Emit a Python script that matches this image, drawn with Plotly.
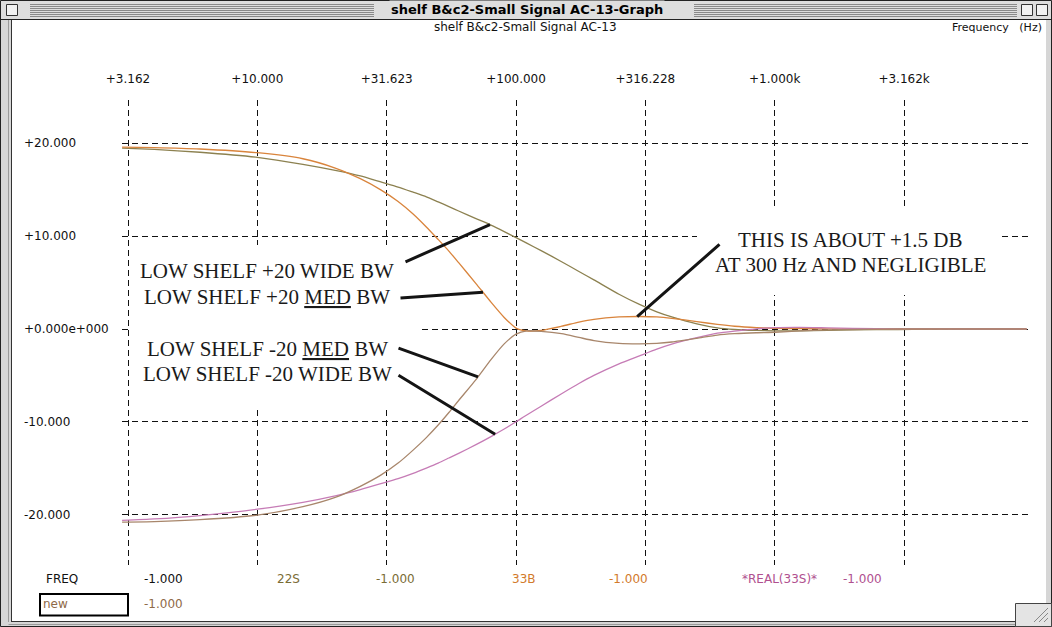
import numpy as np
import plotly.graph_objects as go

# ---------------- data ----------------
freq_hz = [3, 4, 6, 10, 15, 20, 25, 30, 35, 40, 45, 50, 55, 60, 70, 80, 90, 100, 110, 125,
           150, 175, 200, 250, 300, 350, 400, 500, 600, 700, 850, 1000, 1250, 1600, 2000,
           3000, 5000, 9400]

# 22S : low shelf +20 wide BW
shelf_p20_wide = [19.5, 19.35, 19.05, 18.5, 17.75, 17.1, 16.5, 15.85, 15.3, 14.75, 14.25, 13.7,
                  13.2, 12.72, 11.9, 11.2, 10.5, 9.85, 9.25, 8.45, 7.25, 6.2, 5.3, 3.75, 2.65,
                  1.85, 1.3, 0.55, 0.12, -0.05, -0.15, -0.2, -0.2, -0.15, -0.1, -0.05, 0.0, 0.0]
# 33B : low shelf +20 medium BW
shelf_p20_med = [19.6, 19.55, 19.4, 19.0, 18.35, 17.35, 16.2, 15.0, 13.75, 12.4, 11.0, 9.65,
                 8.4, 7.15, 4.9, 2.9, 1.25, 0.1, -0.2, -0.15, 0.3, 0.75, 1.05, 1.3, 1.35, 1.3,
                 1.15, 0.8, 0.5, 0.3, 0.15, 0.08, 0.04, 0.02, 0.0, 0.0, 0.0, 0.0]
# *REAL(33S)* : low shelf -20 wide BW
shelf_m20_wide = [-20.63, -20.47, -20.1, -19.42, -18.68, -17.98, -17.3, -16.67, -16.12, -15.55,
                  -14.98, -14.45, -13.9, -13.4, -12.46, -11.59, -10.78, -10.0, -9.26, -8.32,
                  -6.97, -5.87, -5.0, -3.75, -2.89, -2.17, -1.63, -0.93, -0.45, -0.22, 0.02,
                  0.15, 0.18, 0.12, 0.06, 0.02, 0.0, 0.0]
# new : low shelf -20 medium BW
shelf_m20_med = [-20.8, -20.75, -20.55, -20.05, -19.15, -18.15, -16.95, -15.75, -14.45, -13.05,
                 -11.7, -10.35, -9.0, -7.7, -5.45, -3.3, -1.6, -0.55, -0.2, -0.25, -0.5, -0.9,
                 -1.25, -1.55, -1.6, -1.55, -1.4, -1.0, -0.65, -0.5, -0.4, -0.35, -0.2, -0.1,
                 -0.05, 0.0, 0.0, 0.0]

x_tick_vals = [3.16228, 10, 31.6228, 100, 316.228, 1000, 3162.28]
x_tick_text = ["+3.162", "+10.000", "+31.623", "+100.000", "+316.228", "+1.000k", "+3.162k"]
y_tick_vals = [20, 10, 0, -10, -20]
y_tick_text = ["+20.000", "+10.000", "+0.000e+000", "-10.000", "-20.000"]

series_names = ["22S", "33B", "*REAL(33S)*", "new"]
series_colors = ["#8c8150", "#d9843c", "#c67cb6", "#a8866b"]
label_colors = ["#7a6c35", "#d27a2c", "#b0508f", "#8f6a48"]

# ---------------- geometry ----------------
W, H = 1052, 627
L, R, T, B = 122, 1028, 100, 565
XR = [0.4768, 3.979]
YR = [-25.43, 24.68]


def xp(px):
    return (px - L) / (R - L)


def yp(py):
    return (B - py) / (B - T)


def f_of_px(px):
    return 10 ** (XR[0] + (px - L) / (R - L) * (XR[1] - XR[0]))


def db_of_py(py):
    return YR[1] - (py - T) / (B - T) * (YR[1] - YR[0])


def px_of_f(f):
    return L + (np.log10(f) - XR[0]) / (XR[1] - XR[0]) * (R - L)


def py_of_db(v):
    return T + (YR[1] - v) / (YR[1] - YR[0]) * (B - T)


fig = go.Figure()
all_series = [shelf_p20_wide, shelf_p20_med, shelf_m20_wide, shelf_m20_med]
for name, ys, col in zip(series_names, all_series, series_colors):
    fig.add_trace(go.Scatter(x=freq_hz, y=ys, mode="lines", name=name,
                             line=dict(color=col, width=1.3, shape="spline", smoothing=0.6),
                             hoverinfo="skip"))

shapes = []


def prect(x0, x1, y0, y1, fill, lc=None, lw=0):
    shapes.append(dict(type="rect", xref="paper", yref="paper", x0=xp(x0), x1=xp(x1),
                       y0=yp(y1), y1=yp(y0), fillcolor=fill,
                       line=dict(color=lc or "rgba(0,0,0,0)", width=lw), layer="below"))


def pline(x0, x1, y0, y1, col, w=1):
    shapes.append(dict(type="line", xref="paper", yref="paper", x0=xp(x0), x1=xp(x1),
                       y0=yp(y0), y1=yp(y1), line=dict(color=col, width=w), layer="below"))


# window chrome
prect(12, 1046, 20, 621, "white")
prect(0.5, 1051.5, 0.5, 626.5, "rgba(0,0,0,0)", "#222", 1)
prect(1, 1051, 1, 19, "#dedede")
pline(0, 1052, 19.5, 19.5, "#222")
for sy in range(4, 17, 2):
    for (a, b) in [(30, 374), (694, 1017)]:
        pline(a, b, sy + 0.5, sy + 0.5, "#8a8a8a")
prect(6.5, 17.5, 4.5, 15.5, "#f2f2f2", "#333", 1)
for bx in [1021.5, 1036.5]:
    prect(bx, bx + 11, 4.5, 15.5, "#f2f2f2", "#333", 1)
pline(8.5, 8.5, 20, 622, "#9a9a9a")
pline(11.5, 11.5, 20, 622, "#333")
pline(11.5, 1046, 621.5, 621.5, "#333")
pline(8.5, 1052, 624.5, 624.5, "#9a9a9a")
prect(1015.5, 1051.5, 603.5, 626.5, "#e4e4e4", "#444", 1)
for k in range(3):
    pline(1034 + 5 * k, 1048, 622, 608 + 5 * k, "#888")
# "new" box
prect(40, 128, 594, 615.5, "rgba(0,0,0,0)", "black", 2)

# white masks behind the callout text (between grid and traces)
for (a, b, c, d) in [(130, 420, 245, 410), (697, 998, 207, 295)]:
    shapes.append(dict(type="rect", xref="x", yref="y", x0=f_of_px(a), x1=f_of_px(b),
                       y0=db_of_py(d), y1=db_of_py(c), fillcolor="white",
                       line=dict(width=0), layer="between"))

ann = []
mono = "DejaVu Sans"


def ptext(t, x, y, font, xanchor="center", **kw):
    ann.append(dict(xref="paper", yref="paper", x=xp(x), y=yp(y), text=t, showarrow=False,
                    xanchor=xanchor, yanchor="middle", font=font, **kw))


# title bar
ptext("<b>shelf B&c2-Small Signal AC-13-Graph</b>", 527, 10,
      dict(family=mono, size=13, color="black"), bgcolor="#dedede", borderpad=1)
ptext("shelf B&c2-Small Signal AC-13", 525, 27, dict(family=mono, size=12, color="#111"))
ptext("Frequency   (Hz)", 1044, 27, dict(family=mono, size=11, color="#111"), xanchor="right")
# y tick labels (left aligned as in the reference)
for v, t in zip(y_tick_vals, y_tick_text):
    ann.append(dict(xref="paper", yref="y", x=xp(22), y=v, xanchor="left", yanchor="middle",
                    text=t, showarrow=False, font=dict(family=mono, size=12, color="#111")))
# bottom data row
row1 = [("FREQ", 44, "#111"), ("-1.000", 142, "#111"),
        (series_names[0], 275, label_colors[0]), ("-1.000", 374, label_colors[0]),
        (series_names[1], 510, label_colors[1]), ("-1.000", 607, label_colors[1]),
        (series_names[2], 740, label_colors[2]), ("-1.000", 841, label_colors[2])]
for t, x0, c in row1:
    ptext(t, x0, 579, dict(family=mono, size=12, color=c), xanchor="left")
for t, x0, c in [(series_names[3], 41, label_colors[3]), ("-1.000", 142, label_colors[3])]:
    ptext(t, x0, 604, dict(family=mono, size=12, color=c), xanchor="left")

# callout text
serif = dict(family="Liberation Serif, Times New Roman, serif", size=21, color="#1a1a1a")
callouts = [("LOW SHELF +20 WIDE BW", 267, 271), ("LOW SHELF +20 <u>MED</u> BW", 267, 297),
            ("LOW SHELF -20 <u>MED</u> BW", 267, 349), ("LOW SHELF -20 WIDE BW", 267, 374),
            ("THIS IS ABOUT +1.5 DB", 850, 240), ("AT 300 Hz AND NEGLIGIBLE", 850, 265)]
for t, cx, cy in callouts:
    ptext(t, cx, cy, serif)

# leader lines: tip on a curve (frequency), tail near the text (pixels)
leaders = [(shelf_p20_wide, 79.3, 405, 262), (shelf_p20_med, 74.5, 400, 298),
           (shelf_m20_med, 71.3, 398, 348), (shelf_m20_wide, 83.0, 398, 375),
           (shelf_p20_med, 294.0, 720, 244)]
lf = np.log10(freq_hz)
for ys, ftip, tx, ty in leaders:
    ytip = float(np.interp(np.log10(ftip), lf, ys))
    ann.append(dict(xref="x", yref="y", x=float(np.log10(ftip)), y=ytip, text=" ",
                    showarrow=True, arrowhead=0, arrowwidth=3, arrowcolor="#141414",
                    ax=tx - px_of_f(ftip), ay=ty - py_of_db(ytip), standoff=0, startstandoff=0,
                    font=dict(size=1), borderpad=0))

fig.update_layout(
    width=W, height=H,
    margin=dict(l=L, r=W - R, t=T, b=H - B, pad=0),
    paper_bgcolor="#d6d6d6", plot_bgcolor="rgba(0,0,0,0)",
    showlegend=False,
    shapes=shapes, annotations=ann,
    xaxis=dict(type="log", range=XR, side="top", tickvals=x_tick_vals, ticktext=x_tick_text,
               showgrid=True, gridcolor="#111", gridwidth=1, griddash="6px,4px",
               zeroline=False, showline=False, ticks="outside", ticklen=11,
               tickcolor="rgba(0,0,0,0)", automargin=False,
               tickfont=dict(family=mono, size=12, color="#111")),
    yaxis=dict(range=YR, tickvals=y_tick_vals, showticklabels=False, showgrid=True,
               gridcolor="#111", gridwidth=1, griddash="6px,4px", zeroline=False,
               showline=False, ticks="", automargin=False),
)

fig.write_html("out.html", config={"displayModeBar": False},
               post_script="document.body.style.margin='0';")
